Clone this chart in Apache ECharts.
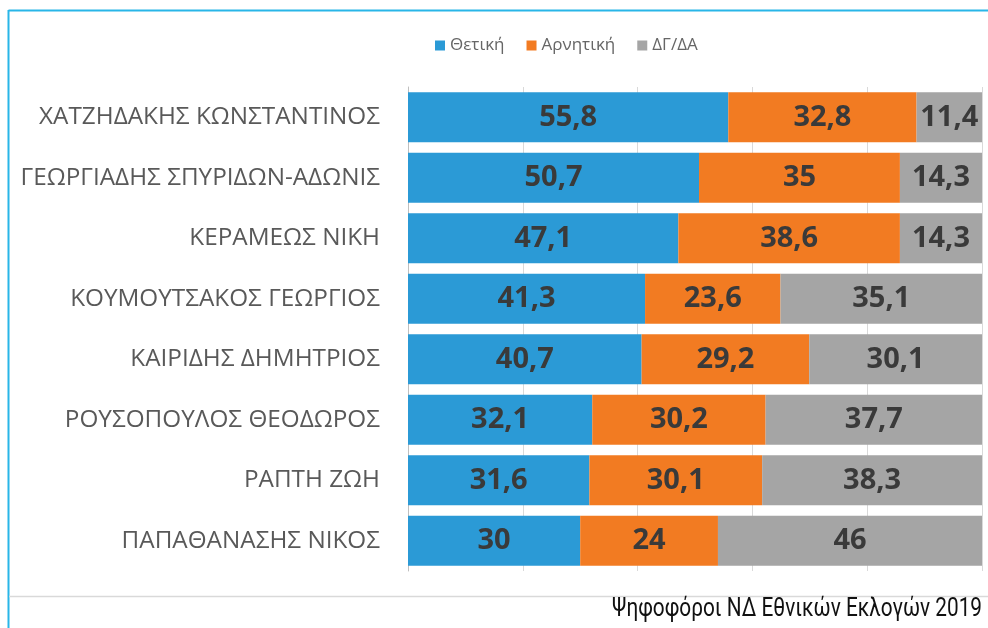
<!DOCTYPE html>
<html>
<head>
<meta charset="utf-8">
<script src="https://cdn.jsdelivr.net/npm/echarts@6/dist/echarts.min.js"></script>
<style>
  html, body { margin: 0; padding: 0; background: #fff; }
  #chart { width: 988px; height: 628px; }
</style>
</head>
<body>
<div id="chart"></div>
<script>
// υποψήφιοι (από πάνω προς τα κάτω)
var candidates = [
  'ΧΑΤΖΗΔΑΚΗΣ ΚΩΝΣΤΑΝΤΙΝΟΣ',
  'ΓΕΩΡΓΙΑΔΗΣ ΣΠΥΡΙΔΩΝ-ΑΔΩΝΙΣ',
  'ΚΕΡΑΜΕΩΣ ΝΙΚΗ',
  'ΚΟΥΜΟΥΤΣΑΚΟΣ ΓΕΩΡΓΙΟΣ',
  'ΚΑΙΡΙΔΗΣ ΔΗΜΗΤΡΙΟΣ',
  'ΡΟΥΣΟΠΟΥΛΟΣ ΘΕΟΔΩΡΟΣ',
  'ΡΑΠΤΗ ΖΩΗ',
  'ΠΑΠΑΘΑΝΑΣΗΣ ΝΙΚΟΣ'
];
var positive = [55.8, 50.7, 47.1, 41.3, 40.7, 32.1, 31.6, 30];
var negative = [32.8, 35, 38.6, 23.6, 29.2, 30.2, 30.1, 24];
var noAnswer = [11.4, 14.3, 14.3, 35.1, 30.1, 37.7, 38.3, 46];
var xTicks = [0, 20, 40, 60, 80, 100];
var footerText = 'Ψηφοφόροι ΝΔ Εθνικών Εκλογών 2019';

var chart = echarts.init(document.getElementById('chart'));

// condensed look for the footer: squeeze Roboto to the width of the original
var footerFont = '26px Roboto';
var ctx = document.createElement('canvas').getContext('2d');
ctx.font = footerFont;
var footerScale = 370 / ctx.measureText(footerText).width;

function barLabel() {
  return {
    show: true,
    position: 'inside',
    color: '#3a3a3a',
    fontFamily: 'Open Sans',
    fontWeight: 'bold',
    fontSize: 29,
    formatter: function (p) { return String(p.value).replace('.', ','); }
  };
}

var option = {
  animation: false,
  color: ['#2b9ad6', '#f27b22', '#a5a5a5'],
  legend: {
    top: 32,
    left: 430,
    itemWidth: 10,
    itemHeight: 10,
    itemGap: 22,
    icon: 'rect',
    textStyle: { color: '#666', fontFamily: 'Open Sans', fontSize: 17 },
    data: ['Θετική', 'Αρνητική', 'ΔΓ/ΔΑ']
  },
  grid: { left: 408, right: 6, top: 87, bottom: 57 },
  xAxis: {
    type: 'value',
    min: xTicks[0],
    max: xTicks[xTicks.length - 1],
    interval: 20,
    axisLabel: { show: false },
    axisLine: { show: false },
    axisTick: { show: false },
    splitLine: { show: true, lineStyle: { color: '#d9d9d9', width: 1 } }
  },
  yAxis: {
    type: 'category',
    inverse: true,
    data: candidates,
    axisTick: { show: false },
    axisLine: { show: true, lineStyle: { color: '#bfbfbf' } },
    axisLabel: { color: '#595959', fontFamily: 'Open Sans', fontSize: 24.3, margin: 28 }
  },
  series: [
    { name: 'Θετική', type: 'bar', stack: 'all', barCategoryGap: '17%', data: positive, label: barLabel() },
    { name: 'Αρνητική', type: 'bar', stack: 'all', data: negative, label: barLabel() },
    { name: 'ΔΓ/ΔΑ', type: 'bar', stack: 'all', data: noAnswer, label: barLabel() }
  ],
  graphic: [
    { type: 'line', shape: { x1: 8.5, y1: 10.5, x2: 988, y2: 10.5 }, style: { stroke: '#29b6e8', lineWidth: 2 } },
    { type: 'line', shape: { x1: 8.5, y1: 10, x2: 8.5, y2: 628 }, style: { stroke: '#29b6e8', lineWidth: 2 } },
    { type: 'line', shape: { x1: 9, y1: 596.5, x2: 988, y2: 596.5 }, style: { stroke: '#d9d9d9', lineWidth: 1.5 } },
    {
      type: 'text', x: 982, y: 596, scaleX: footerScale,
      style: {
        text: footerText, fill: '#111', font: footerFont,
        align: 'right', verticalAlign: 'top'
      }
    }
  ]
};
chart.setOption(option);
</script>
</body>
</html>
